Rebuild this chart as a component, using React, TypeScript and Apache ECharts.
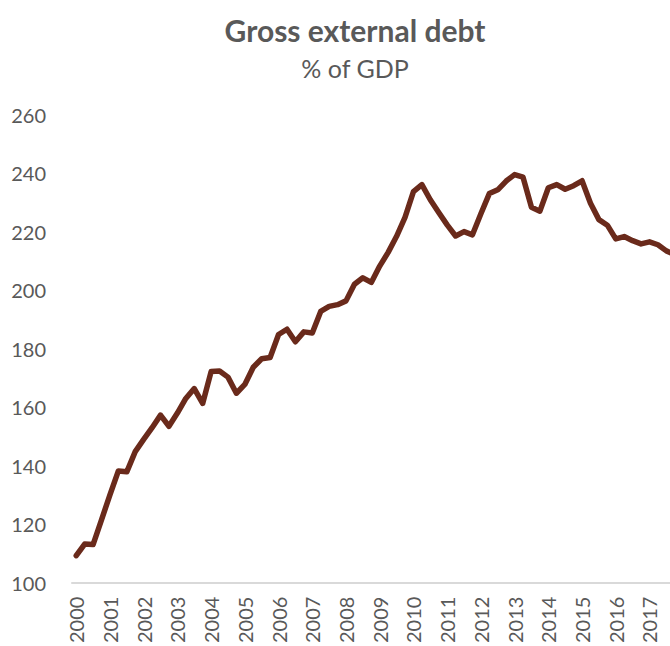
import React, { useEffect, useRef } from "react";
import * as echarts from "echarts";

const years = [
  "2000", "2001", "2002", "2003", "2004", "2005", "2006", "2007", "2008",
  "2009", "2010", "2011", "2012", "2013", "2014", "2015", "2016", "2017",
];
const quarters = ["Q1", "Q2", "Q3", "Q4"];
const categories: string[] = years.flatMap((y) => quarters.map((q) => y + q));

const debtValues = [
  109.2, 113.2, 113.0, 121.5, 130.0, 138.2, 137.9, 144.8,
  149.0, 153.0, 157.3, 153.5, 158.0, 163.0, 166.4, 161.3,
  172.2, 172.4, 170.3, 164.8, 167.8, 173.7, 176.6, 177.0,
  184.9, 186.7, 182.4, 185.8, 185.4, 192.8, 194.5, 195.1,
  196.4, 202.1, 204.3, 202.7, 208.3, 213.0, 218.5, 225.0,
  233.8, 236.2, 231.0, 226.6, 222.4, 218.6, 220.1, 219.0,
  226.2, 233.1, 234.4, 237.4, 239.6, 238.7, 228.4, 227.1,
  235.1, 236.2, 234.6, 235.8, 237.5, 229.8, 224.2, 222.3,
  217.6, 218.4, 217.0, 215.9, 216.6, 215.6, 213.5, 212.3,
];

const yTicks = { min: 100, max: 260, interval: 20 };

export default function App() {
  const ref = useRef<HTMLDivElement>(null);
  useEffect(() => {
    if (!ref.current) return;
    const chart = echarts.init(ref.current, null, { renderer: "svg" });
    const font = "Lato, 'Open Sans', sans-serif";
    chart.setOption({
      animation: false,
      backgroundColor: "#ffffff",
      title: [
        {
          text: "Gross external debt",
          left: 350,
          top: 10,
          textAlign: "center",
          textStyle: { fontFamily: font, fontSize: 30, fontWeight: "bold", color: "#595959" },
        },
        {
          text: "% of GDP",
          left: 350,
          top: 50,
          textAlign: "center",
          textStyle: { fontFamily: font, fontSize: 25, fontWeight: "normal", color: "#595959" },
        },
      ],
      grid: { left: 72, right: 21, top: 115, bottom: 61, containLabel: false },
      xAxis: {
        type: "category",
        data: categories,
        boundaryGap: true,
        axisLine: { show: true, lineStyle: { color: "#D9D9D9", width: 2 } },
        axisTick: { show: false },
        axisLabel: {
          rotate: 90,
          interval: 3,
          margin: 14,
          fontFamily: font,
          fontSize: 20,
          color: "#595959",
          formatter: (v: string) => v.slice(0, 4),
        },
        splitLine: { show: false },
      },
      yAxis: {
        type: "value",
        min: yTicks.min,
        max: yTicks.max,
        interval: yTicks.interval,
        axisLine: { show: false },
        axisTick: { show: false },
        splitLine: { show: false },
        axisLabel: { margin: 26, fontFamily: font, fontSize: 20, color: "#595959" },
      },
      series: [
        {
          type: "line",
          data: debtValues,
          showSymbol: false,
          symbol: "none",
          lineStyle: { color: "#6A2A1B", width: 5.5, join: "round", cap: "round" },
          itemStyle: { color: "#6A2A1B" },
        },
      ],
    });
    return () => chart.dispose();
  }, []);
  return (
    <div
      style={{
        position: "fixed",
        left: 0,
        top: 0,
        width: 670,
        height: 646,
        overflow: "hidden",
        background: "#fff",
      }}
    >
      <div ref={ref} style={{ width: 700, height: 646 }} />
    </div>
  );
}
